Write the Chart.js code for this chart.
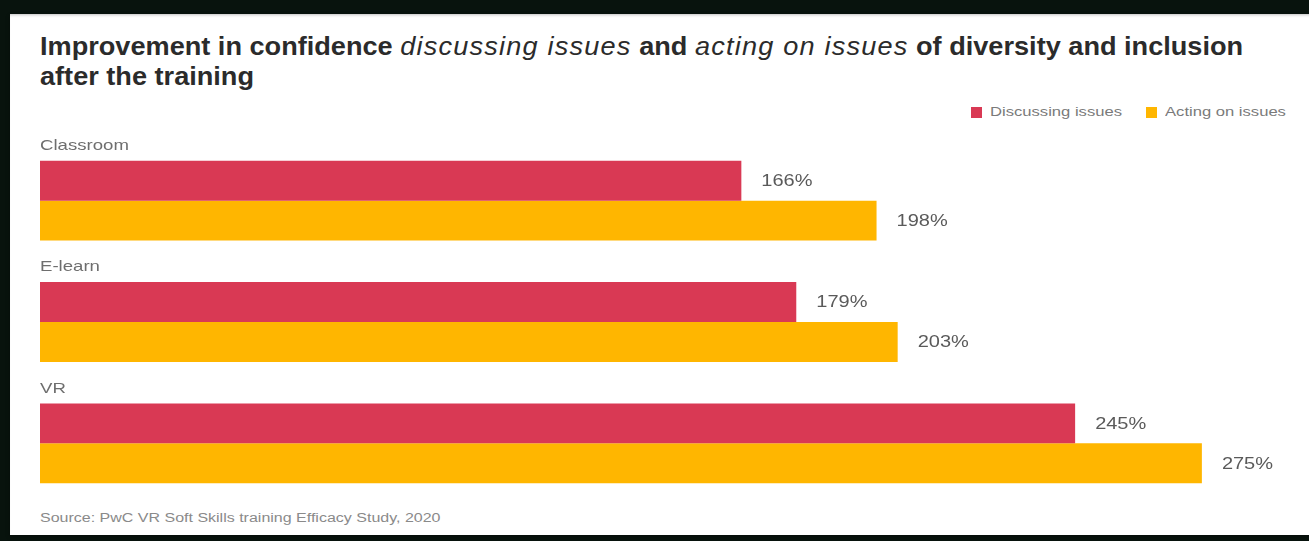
<!DOCTYPE html>
<html>
<head>
<meta charset="utf-8">
<script src="https://cdn.jsdelivr.net/npm/chart.js@4.4.1/dist/chart.umd.min.js"></script>
<style>
  html, body { margin: 0; padding: 0; }
  body {
    width: 1309px; height: 541px; overflow: hidden; position: relative;
    background: #08130d;
    font-family: "Liberation Sans", Arial, sans-serif;
  }
  .glow {
    position: absolute; left: -40px; top: 0; width: 2px; height: 700px;
    background: rgba(60,160,90,0.35); transform: rotate(35deg); transform-origin: top left;
  }
  .card {
    position: absolute; left: 10px; top: 14px; width: 1320px; height: 521px;
    background: #fff;
    box-shadow: 0 2px 4px rgba(0,0,0,0.35), inset 0 3px 3px -2px rgba(0,0,0,0.25);
  }
  .title {
    position: absolute; left: 40px; top: 31px; margin: 0; white-space: nowrap;
    font-size: 25px; line-height: 30px; font-weight: bold; color: #2b2b2b;
    transform: scaleX(1.085); transform-origin: left top;
  }
  .title i { font-weight: normal; letter-spacing: 1.1px; }
  .lg { position: absolute; top: 104px; font-size: 13.5px; color: #7a7a7a; white-space: nowrap;
        transform: scaleX(1.23); transform-origin: left center; }
  .sq { position: absolute; top: 107px; width: 11px; height: 11px; }
  .source {
    position: absolute; left: 40px; top: 511px; font-size: 12.5px; color: #8a8a8a; white-space: nowrap;
    transform: scaleX(1.28); transform-origin: left center;
  }
  #wrap { position: absolute; left: 0; top: 0; width: 1309px; height: 541px; }
</style>
</head>
<body>
<div class="glow"></div>
<div class="card"></div>
<p class="title">Improvement in confidence <i>discussing issues</i> and <i>acting on issues</i> of diversity and inclusion<br>after the training</p>
<div class="sq" style="left:971px;background:#d93954"></div>
<div class="lg" style="left:990px">Discussing issues</div>
<div class="sq" style="left:1146px;background:#ffb600"></div>
<div class="lg" style="left:1165px">Acting on issues</div>
<div class="source">Source: PwC VR Soft Skills training Efficacy Study, 2020</div>
<div id="wrap"><canvas id="chart"></canvas></div>
<script>
  const categories = ["Classroom", "E-learn", "VR"];
  const discussingIssues = [166, 179, 245];
  const actingOnIssues = [198, 203, 275];
  const seriesNames = ["Discussing issues", "Acting on issues"];

  const RED = "#d93954";
  const GOLD = "#ffb600";

  function stretchedText(ctx, text, x, y, sx) {
    ctx.save();
    ctx.translate(x, y);
    ctx.scale(sx, 1);
    ctx.fillText(text, 0, 0);
    ctx.restore();
  }

  // category names above each group, percent labels right of each bar
  const labelPlugin = {
    id: "barLabels",
    afterDatasetsDraw(chart) {
      const ctx = chart.ctx;
      ctx.save();
      ctx.textBaseline = "middle";
      ctx.font = "15px 'Liberation Sans', Arial, sans-serif";
      ctx.fillStyle = "#6e6e6e";
      chart.getDatasetMeta(0).data.forEach((bar, i) => {
        const top = bar.y - bar.height / 2;
        stretchedText(ctx, categories[i], chart.chartArea.left, top - 15, 1.24);
      });
      ctx.font = "16px 'Liberation Sans', Arial, sans-serif";
      ctx.fillStyle = "#5a5a5a";
      chart.data.datasets.forEach((ds, d) => {
        chart.getDatasetMeta(d).data.forEach((bar, i) => {
          stretchedText(ctx, ds.data[i] + "%", bar.x + 20, bar.y + 1, 1.25);
        });
      });
      ctx.restore();
    },
  };

  new Chart(document.getElementById("chart"), {
    type: "bar",
    data: {
      labels: categories,
      datasets: [
        { label: seriesNames[0], data: discussingIssues, backgroundColor: RED },
        { label: seriesNames[1], data: actingOnIssues, backgroundColor: GOLD },
      ],
    },
    options: {
      indexAxis: "y",
      responsive: true,
      maintainAspectRatio: false,
      animation: false,
      categoryPercentage: 0.658,
      barPercentage: 1,
      layout: { padding: { left: 40, right: 1.5, top: 140, bottom: 37 } },
      scales: {
        x: { display: false, min: 0, max: 300 },
        y: { display: false },
      },
      plugins: { legend: { display: false }, tooltip: { enabled: false } },
    },
    plugins: [labelPlugin],
  });
</script>
</body>
</html>
